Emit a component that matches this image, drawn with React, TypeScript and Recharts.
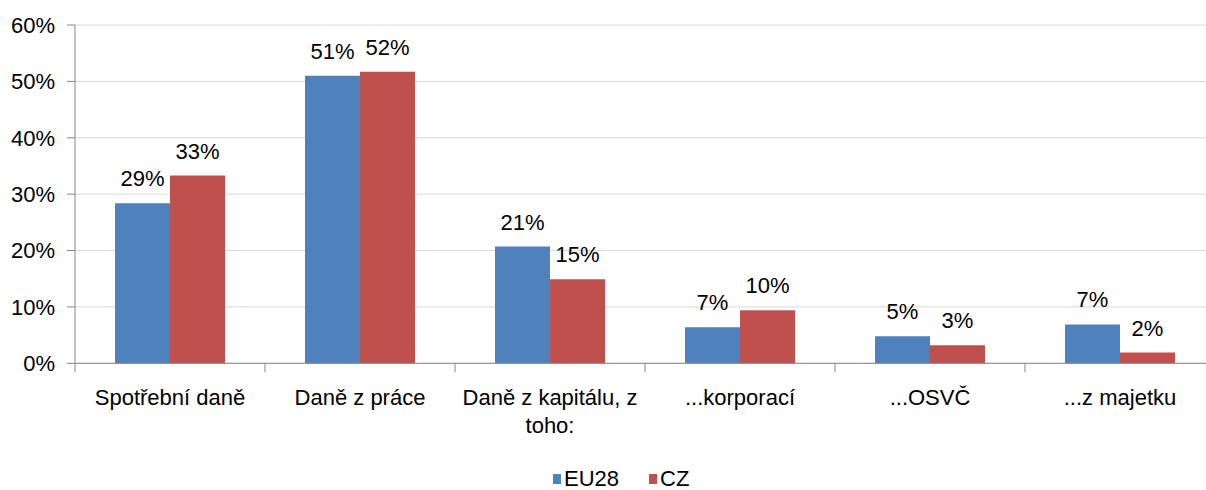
import React from 'react';
import { BarChart, Bar, XAxis, YAxis, CartesianGrid, Legend, LabelList } from 'recharts';

const categories = ['Spotřební daně', 'Daně z práce', 'Daně z kapitálu, z\ntoho:', '...korporací', '...OSVČ', '...z majetku'];
const eu28Values = [28.4, 51.0, 20.7, 6.4, 4.8, 6.9];
const czValues = [33.3, 51.7, 14.9, 9.4, 3.2, 1.9];
const eu28Labels = ['29%', '51%', '21%', '7%', '5%', '7%'];
const czLabels = ['33%', '52%', '15%', '10%', '3%', '2%'];
const yTicks = [0, 10, 20, 30, 40, 50, 60];
const seriesNames = ['EU28', 'CZ'];
const seriesColors = ['#4F81BD', '#C0504D'];

const FONT = '"Liberation Sans", Arial, sans-serif';
const AXIS = '#868686';

const data = categories.map((c, i) => ({
  name: c,
  eu28: eu28Values[i],
  cz: czValues[i],
  eu28Label: eu28Labels[i],
  czLabel: czLabels[i],
}));

const CategoryTick = (props: any) => {
  const { x, y, payload, index, visibleTicksCount } = props;
  const half = payload && typeof payload.offset === 'number' && payload.offset > 0 ? payload.offset : 95;
  const lines = String(payload.value).split('\n');
  return (
    <g>
      <line x1={x - half} y1={y} x2={x - half} y2={y + 9} stroke={AXIS} strokeWidth={1} />
      {index === visibleTicksCount - 1 && (
        <line x1={x + half} y1={y} x2={x + half} y2={y + 9} stroke={AXIS} strokeWidth={1} />
      )}
      <text x={x} y={y + 42} textAnchor="middle" fill="#000" fontSize={22} fontFamily={FONT}>
        {lines.map((l, i) => (
          <tspan key={i} x={x} dy={i === 0 ? 0 : 28}>
            {l}
          </tspan>
        ))}
      </text>
    </g>
  );
};

const renderLegend = () => (
  <div style={{ display: 'flex', alignItems: 'center', fontFamily: FONT, fontSize: 22, color: '#000', lineHeight: '22px', height: 22 }}>
    {seriesNames.map((n, i) => (
      <div key={n} style={{ display: 'flex', alignItems: 'center', marginRight: i === 0 ? 30 : 0 }}>
        <span style={{ display: 'inline-block', width: 8, height: 10, background: seriesColors[i], marginRight: 3 }} />
        <span>{n}</span>
      </div>
    ))}
  </div>
);

export default function App() {
  return (
    <div style={{ position: 'absolute', left: 0, top: 0, width: 1206, height: 490, overflow: 'hidden', background: '#fff' }}>
      <BarChart
        width={1220}
        height={490}
        data={data}
        margin={{ top: 25, right: 5, left: 0, bottom: 66.7 }}
        barCategoryGap={40}
        barGap={0}
      >
        <CartesianGrid vertical={false} stroke="#d9d9d9" />
        <XAxis
          dataKey="name"
          interval={0}
          height={60}
          tickSize={0}
          tickMargin={0}
          tickLine={false}
          axisLine={{ stroke: AXIS }}
          tick={<CategoryTick />}
        />
        <YAxis
          width={75}
          domain={[0, 60]}
          ticks={yTicks}
          interval={0}
          tickFormatter={(v: number) => `${v}%`}
          tick={{ fill: '#000', fontSize: 22, fontFamily: FONT }}
          tickSize={8}
          tickMargin={12}
          axisLine={{ stroke: AXIS }}
          tickLine={{ stroke: AXIS }}
        />
        <Legend
          verticalAlign="middle"
          align="center"
          layout="horizontal"
          content={renderLegend}
          wrapperStyle={{ top: 468, left: 553, width: 220, height: 22 }}
        />
        <Bar dataKey="eu28" name={seriesNames[0]} fill={seriesColors[0]} isAnimationActive={false}>
          <LabelList dataKey="eu28Label" position="top" offset={17} fill="#000" fontSize={22} fontFamily={FONT} />
        </Bar>
        <Bar dataKey="cz" name={seriesNames[1]} fill={seriesColors[1]} isAnimationActive={false}>
          <LabelList dataKey="czLabel" position="top" offset={17} fill="#000" fontSize={22} fontFamily={FONT} />
        </Bar>
      </BarChart>
    </div>
  );
}
